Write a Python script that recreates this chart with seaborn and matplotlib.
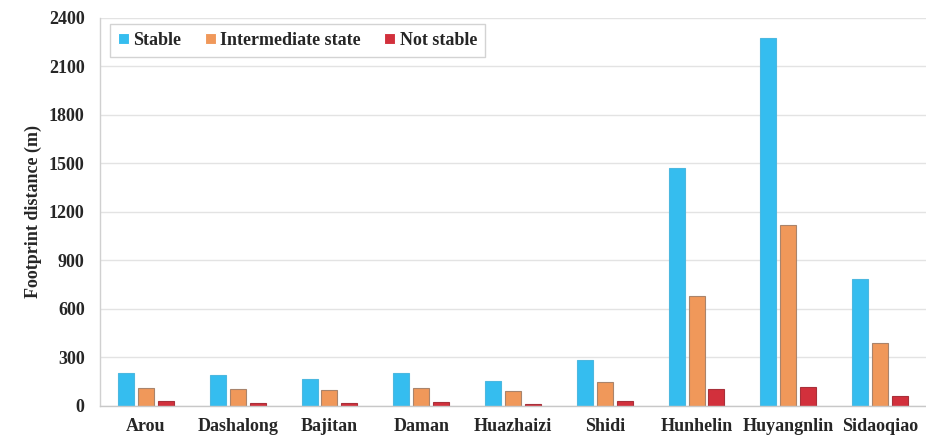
import matplotlib
matplotlib.use("Agg")
import matplotlib.pyplot as plt
import seaborn as sns
import pandas as pd

sites = ["Arou", "Dashalong", "Bajitan", "Daman", "Huazhaizi", "Shidi",
         "Hunhelin", "Huyangnlin", "Sidaoqiao"]
stable = [207, 193, 167, 205, 153, 284, 1470, 2276, 783]
intermediate = [111, 104, 99, 112, 93, 146, 680, 1122, 389]
not_stable = [28, 21, 17, 25, 15, 31, 104, 116, 63]
states = ["Stable", "Intermediate state", "Not stable"]
colors = ["#35BDEF", "#F0985A", "#D2303C"]
edges = ["#4CB8E0", "#A9846C", "#A8303A"]
yticks = [0, 300, 600, 900, 1200, 1500, 1800, 2100, 2400]

df = pd.DataFrame({
    "site": sites * 3,
    "state": [states[0]] * len(sites) + [states[1]] * len(sites) + [states[2]] * len(sites),
    "distance": stable + intermediate + not_stable,
})

sns.set_theme(style="white")
plt.rcParams["font.family"] = ["Liberation Serif", "DejaVu Serif"]
plt.rcParams["font.weight"] = "bold"

fig = plt.figure(figsize=(9.26, 4.37), dpi=100)
ax = fig.add_axes([0.108, 0.071, 0.892, 0.888])

sns.barplot(data=df, x="site", y="distance", hue="state", hue_order=states,
            palette=colors, saturation=1, width=0.65, gap=0.2, errorbar=None,
            ax=ax, linewidth=0.8)

# per-series edge colours
for cont, ec in zip(ax.containers, edges):
    for patch in cont:
        patch.set_edgecolor(ec)

ax.set_ylim(0, 2400)
ax.set_yticks(yticks)
ax.set_xlim(-0.5, len(sites) - 0.5)
ax.yaxis.grid(True, color="#E3E3E3", linewidth=1.0)
ax.set_axisbelow(True)
for side in ["top", "right"]:
    ax.spines[side].set_visible(False)
ax.spines["left"].set_color("#D0D0D0")
ax.spines["bottom"].set_color("#C8C8C8")
ax.spines["left"].set_linewidth(1.0)
ax.spines["bottom"].set_linewidth(1.0)

ax.set_xlabel("")
ax.set_ylabel("Footprint distance (m)", fontsize=13, fontweight="bold", labelpad=5)
ax.tick_params(axis="both", length=0, labelsize=13)
ax.tick_params(axis="y", pad=11)
ax.tick_params(axis="x", pad=9)
for lab in ax.get_xticklabels() + ax.get_yticklabels():
    lab.set_fontweight("bold")

leg = ax.legend(loc="upper left", bbox_to_anchor=(0.012, 0.985), ncol=3,
                frameon=True, fancybox=False, fontsize=13,
                handlelength=0.6, handleheight=0.6, handletextpad=0.25,
                columnspacing=1.3, borderpad=0.45, borderaxespad=0.0)
leg.get_frame().set_edgecolor("#C8C8C8")
leg.get_frame().set_linewidth(1.0)
for t in leg.get_texts():
    t.set_fontweight("bold")

fig.savefig("out.png", dpi=100)
